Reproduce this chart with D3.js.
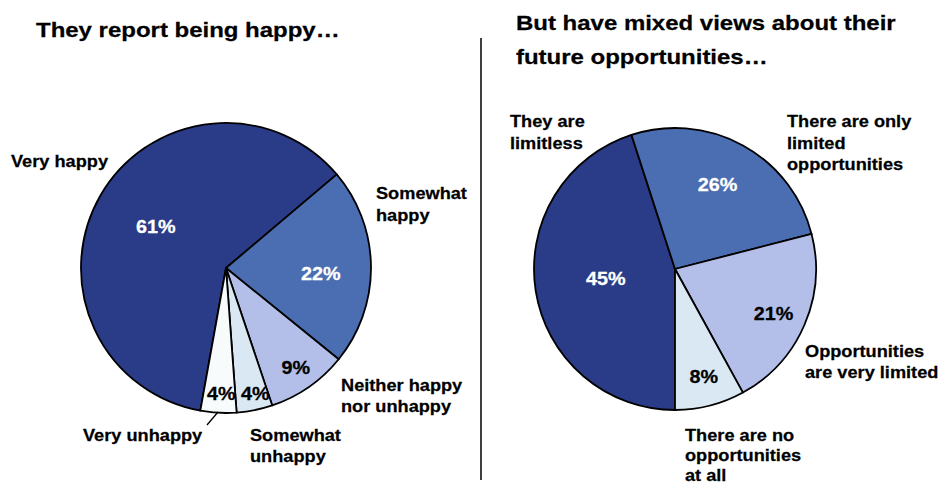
<!DOCTYPE html>
<html>
<head>
<meta charset="utf-8">
<script src="https://cdn.jsdelivr.net/npm/d3@7"></script>
<style>
  html, body { margin: 0; padding: 0; background: #ffffff; }
  svg { display: block; }
  text { font-family: "Liberation Sans", Arial, Helvetica, sans-serif; font-weight: bold; }
</style>
</head>
<body>
<svg id="chart" width="942" height="486"></svg>
<script>
// ---- Data ----
const happyCategories = ["Very happy", "Somewhat happy", "Neither happy nor unhappy", "Somewhat unhappy", "Very unhappy"];
const happyValues = [61, 22, 9, 4, 4];
const happyLabels = ["61%", "22%", "9%", "4%", "4%"];

const oppCategories = ["They are limitless", "There are only limited opportunities", "Opportunities are very limited", "There are no opportunities at all"];
const oppValues = [45, 26, 21, 8];
const oppLabels = ["45%", "26%", "21%", "8%"];

const leftTitle = ["They report being happy\u2026"];
const rightTitle = ["But have mixed views about their", "future opportunities\u2026"];

// ---- Styling / layout ----
const happyColors = ["#2A3C87", "#4B6DB2", "#B3BFE8", "#D9E8F3", "#F7FBFB"];
const happyTextColors = ["#ffffff", "#ffffff", "#000000", "#000000", "#000000"];
const oppColors = ["#2A3C87", "#4B6DB2", "#B3BFE8", "#D9E8F3"];
const oppTextColors = ["#ffffff", "#ffffff", "#000000", "#000000"];

// label placement relative to slice centroid: radius factor and angle offset (deg)
const leftLabelR = [0.56, 0.654, 0.837, 0.888, 0.865];
const leftLabelDA = [0.3, 3.8, -0.3, -1.8, -0.9];
const rightLabelR = [0.496, 0.67, 0.767, 0.79];
const rightLabelDA = [0.8, -2, 0.8, -0.6];

const svg = d3.select("#chart");

function stretchedText(g, x, y, lines, opts) {
  const size = opts.size, lh = opts.lh || size * 1.25, anchor = opts.anchor || "start", sx = opts.sx || 1.07;
  lines.forEach((ln, i) => {
    g.append("text")
      .attr("transform", `translate(${x},${y + i * lh}) scale(${sx},1)`)
      .attr("text-anchor", anchor)
      .attr("font-size", size)
      .attr("fill", opts.fill || "#000")
      .attr("stroke", opts.fill || "#000")
      .attr("stroke-width", 0.25)
      .text(ln);
  });
}

function drawPie(cx, cy, r, values, colors, startDeg) {
  const start = startDeg * Math.PI / 180;
  const pie = d3.pie().sort(null).value(d => d).startAngle(start).endAngle(start + 2 * Math.PI);
  const arc = d3.arc().innerRadius(0).outerRadius(r);
  const g = svg.append("g").attr("transform", `translate(${cx},${cy})`);
  const arcs = pie(values);
  g.selectAll("path").data(arcs).join("path")
    .attr("d", arc)
    .attr("fill", (d, i) => colors[i])
    .attr("stroke", "#000")
    .attr("stroke-width", 1.8)
    .attr("stroke-linejoin", "round");
  return arcs;
}

function drawPctLabels(arcs, cx, cy, r, labels, fills, rf, da) {
  arcs.forEach((d, i) => {
    const a = (d.startAngle + d.endAngle) / 2 + da[i] * Math.PI / 180;
    const rr = r * rf[i];
    const x = cx + Math.sin(a) * rr, y = cy - Math.cos(a) * rr;
    stretchedText(svg, x, y + 6.3, [labels[i]], { size: 17.5, anchor: "middle", fill: fills[i], sx: 1.13 });
  });
}

// ---- Titles ----
stretchedText(svg, 36, 37, leftTitle, { size: 20.5, sx: 1.17 });
stretchedText(svg, 516, 30, rightTitle, { size: 20.5, lh: 34, sx: 1.17 });

// separator
svg.append("line").attr("x1", 481).attr("x2", 481).attr("y1", 38).attr("y2", 480)
  .attr("stroke", "#000").attr("stroke-width", 1.5);

// ---- Left pie ----
const leftArcs = drawPie(226, 268, 145, happyValues, happyColors, 190.2);
drawPctLabels(leftArcs, 226, 268, 145, happyLabels, happyTextColors, leftLabelR, leftLabelDA);

stretchedText(svg, 11, 167, ["Very happy"], { size: 17 });
stretchedText(svg, 376, 199, ["Somewhat", "happy"], { size: 17, lh: 21.5 });
stretchedText(svg, 341, 391, ["Neither happy", "nor unhappy"], { size: 17, lh: 21 });
stretchedText(svg, 83, 441, ["Very unhappy"], { size: 17 });
stretchedText(svg, 250, 441, ["Somewhat", "unhappy"], { size: 17, lh: 21 });
svg.append("line").attr("x1", 218).attr("y1", 412).attr("x2", 207).attr("y2", 425)
  .attr("stroke", "#000").attr("stroke-width", 1.3);

// ---- Right pie ----
const rightArcs = drawPie(675, 269, 141, oppValues, oppColors, 180);
drawPctLabels(rightArcs, 675, 269, 141, oppLabels, oppTextColors, rightLabelR, rightLabelDA);

stretchedText(svg, 510, 127, ["They are", "limitless"], { size: 17, lh: 22 });
stretchedText(svg, 787, 127, ["There are only", "limited", "opportunities"], { size: 17, lh: 21.5 });
stretchedText(svg, 805, 357, ["Opportunities", "are very limited"], { size: 17, lh: 21 });
stretchedText(svg, 685, 441, ["There are no", "opportunities", "at all"], { size: 17, lh: 20 });
</script>
</body>
</html>
